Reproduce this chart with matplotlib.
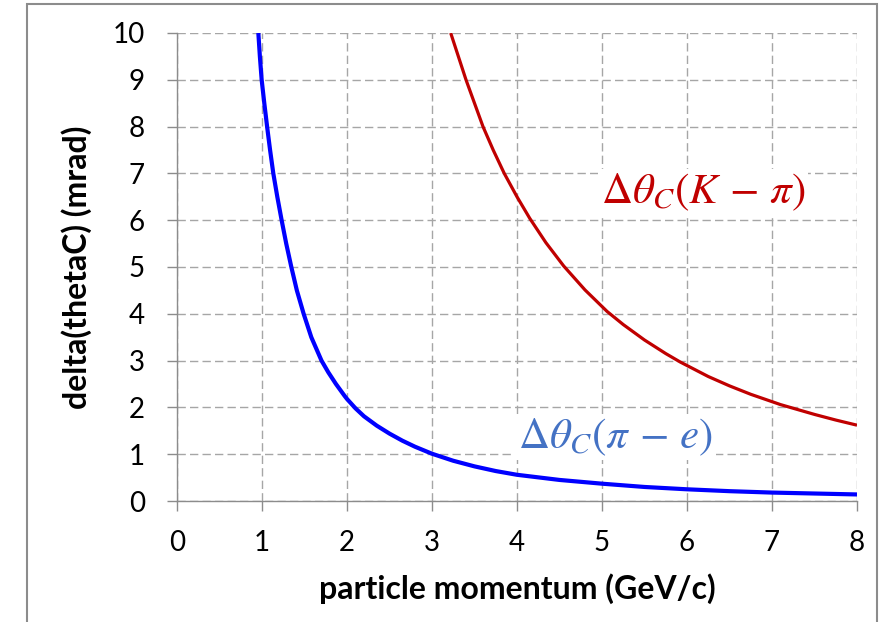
import matplotlib
matplotlib.use("Agg")
import matplotlib.pyplot as plt
from matplotlib.patches import Rectangle

# data
p_pie = [0.957, 0.975, 0.996, 1.027, 1.06, 1.095, 1.133, 1.18, 1.231, 1.285, 1.345,
         1.41, 1.49, 1.58, 1.70, 1.78, 1.87, 1.97, 2.0, 2.1, 2.2, 2.35, 2.5, 2.65,
         2.8, 3.0, 3.25, 3.5, 3.75, 4.0, 4.5, 5.0, 5.5, 6.0, 6.5, 7.0, 7.5, 8.0]
d_pie = [10.0, 9.5, 9.0, 8.5, 8.0, 7.5, 7.0, 6.5, 6.0, 5.5, 5.0,
         4.5, 4.0, 3.5, 3.0, 2.75, 2.5, 2.25, 2.18, 1.98, 1.81, 1.61, 1.44, 1.29,
         1.16, 1.01, 0.86, 0.74, 0.64, 0.56, 0.45, 0.37, 0.30, 0.25, 0.21, 0.18, 0.16, 0.14]
p_kpi = [3.22, 3.31, 3.40, 3.50, 3.60, 3.72, 3.85, 4.0, 4.15, 4.34, 4.55, 4.8, 5.06,
         5.25, 5.5, 5.75, 5.92, 6.25, 6.5, 6.75, 7.1, 7.5, 7.75, 8.0]
d_kpi = [10.0, 9.5, 9.0, 8.5, 8.0, 7.5, 7.0, 6.5, 6.04, 5.52, 5.02, 4.51, 4.05,
         3.77, 3.44, 3.15, 2.97, 2.66, 2.46, 2.28, 2.06, 1.85, 1.73, 1.62]
x_ticks = [0, 1, 2, 3, 4, 5, 6, 7, 8]
y_ticks = [0, 1, 2, 3, 4, 5, 6, 7, 8, 9, 10]
xlabel = "particle momentum (GeV/c)"
ylabel = "delta(thetaC) (mrad)"
label_kpi = r"$\Delta\theta_C(K\,-\,\pi)$"
label_pie = r"$\Delta\theta_C(\pi\,-\,e)$"

plt.rcParams['font.family'] = ['Lato', 'DejaVu Sans']
plt.rcParams['mathtext.fontset'] = 'stix'

fig = plt.figure(figsize=(8.87, 6.22), dpi=100)
ax = fig.add_axes([177/887, 1-501/622, (857-177)/887, (501-33)/622])

fig.patches.append(Rectangle((27/887, -0.05), (877-27)/887, 1-4/622+0.05,
                             transform=fig.transFigure, fill=False,
                             edgecolor='#8c8c8c', linewidth=1.5))

ax.plot(p_pie, d_pie, color='#0000ff', lw=3.0, zorder=3,
        solid_capstyle='butt', solid_joinstyle='round')
ax.plot(p_kpi, d_kpi, color='#c00000', lw=2.3, zorder=3,
        solid_capstyle='butt', solid_joinstyle='round')

ax.set_xlim(0, 8)
ax.set_ylim(0, 10)
ax.set_xticks(x_ticks)
ax.set_yticks(y_ticks)
ax.grid(True, color='#a6a6a6', linestyle=(0, (6, 3)), linewidth=1.0, zorder=1)
ax.set_axisbelow(True)
for s in ['top', 'right']:
    ax.spines[s].set_visible(False)
for s in ['left', 'bottom']:
    ax.spines[s].set_color('#8c8c8c')
    ax.spines[s].set_linewidth(1.0)
ax.tick_params(axis='both', length=7, width=1.0, color='#8c8c8c', labelsize=20)
ax.tick_params(axis='y', pad=16)
ax.tick_params(axis='x', pad=14)

ax.set_xlabel(xlabel, fontsize=23, fontweight='bold', labelpad=12)
ax.set_ylabel(ylabel, fontsize=23, fontweight='bold', labelpad=15)

ax.text(6.19, 6.6, label_kpi, color='#c00000', fontsize=31, ha='center', va='center',
        bbox=dict(facecolor='white', edgecolor='none', pad=2), zorder=4)
ax.text(5.16, 1.37, label_pie, color='#4472c4', fontsize=31, ha='center', va='center',
        bbox=dict(facecolor='white', edgecolor='none', pad=2), zorder=2.5)

fig.savefig("out.png", dpi=100)
